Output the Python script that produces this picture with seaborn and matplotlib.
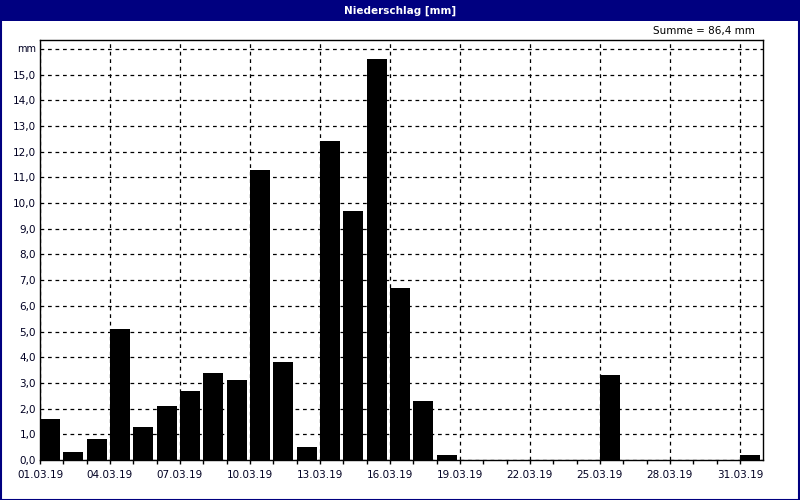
import numpy as np
import pandas as pd
import matplotlib.pyplot as plt
import matplotlib.patches as mpatches
from matplotlib.ticker import FixedLocator, FuncFormatter
import seaborn as sns

# daily precipitation, March 2019
days = [f"{d:02d}.03.19" for d in range(1, 32)]
rain_mm = [1.6, 0.3, 0.8, 5.1, 1.3, 2.1, 2.7, 3.4, 3.1, 11.3,
           3.8, 0.5, 12.4, 9.7, 15.6, 6.7, 2.3, 0.2, 0.0, 0.0,
           0.0, 0.0, 0.0, 0.0, 3.3, 0.0, 0.0, 0.0, 0.0, 0.0, 0.2]
title = "Niederschlag [mm]"
total_label = "Summe = 86,4 mm"

df = pd.DataFrame({"Tag": days, "mm": rain_mm})

sns.set_style("white")
plt.rcParams['font.family'] = ['DejaVu Sans']

fig = plt.figure(figsize=(8, 5), dpi=100)
ax = fig.add_axes([0.05, 0.08, 0.904, 0.84])

bw = 0.86
sns.barplot(data=df, x="Tag", y="mm", color="black", saturation=1,
            width=bw, ax=ax, zorder=3)
for p in ax.patches:
    p.set_edgecolor("none")

half = bw / 2
ax.set_xlim(-half, len(days) - half)
ax.set_ylim(0, 16.35)

# x ticks: labels every 3 days, minor tick every day, at day start
starts = np.arange(len(days)) - half
ax.xaxis.set_major_locator(FixedLocator(starts[::3]))
ax.set_xticklabels(days[::3])
ax.xaxis.set_minor_locator(FixedLocator(starts))
ax.tick_params(axis="x", which="both", direction="out", length=3, width=1,
               color="black", bottom=True, labelsize=7.5, labelcolor="#000022", pad=4)

ax.yaxis.set_major_locator(FixedLocator(np.arange(0, 17, 1.0)))
ax.yaxis.set_major_formatter(FuncFormatter(
    lambda v, _: "" if v > 15.5 else f"{v:.1f}".replace(".", ",")))
ax.tick_params(axis="y", length=0, labelsize=7.5, labelcolor="#000022", pad=3)

ax.set_xlabel("")
ax.set_ylabel("")

ax.grid(True, axis="both", which="major", color="black", linestyle=(0, (3, 3)),
        linewidth=0.9, zorder=1)
ax.set_axisbelow(True)
for s in ax.spines.values():
    s.set_visible(True)
    s.set_color("black")
    s.set_linewidth(1.0)

ax.text(-0.005, 16.0, "mm", transform=ax.get_yaxis_transform(), ha="right",
        va="center", fontsize=7, color="#000022")
fig.text(0.944, 0.938, total_label, ha="right", va="center", fontsize=7.5,
         color="black")

# title bar and frame
fig.patches.append(mpatches.Rectangle((0, 0.958), 1, 0.042, transform=fig.transFigure,
                                      facecolor="#000080", edgecolor="none", zorder=0))
fig.patches.append(mpatches.Rectangle((0.001, 0.001), 0.998, 0.998, transform=fig.transFigure,
                                      facecolor="none", edgecolor="#000080",
                                      linewidth=1.5, zorder=0))
fig.text(0.5, 0.979, title, ha="center", va="center", fontsize=7.5,
         fontweight="bold", color="white")

fig.savefig("out.png", dpi=100)
